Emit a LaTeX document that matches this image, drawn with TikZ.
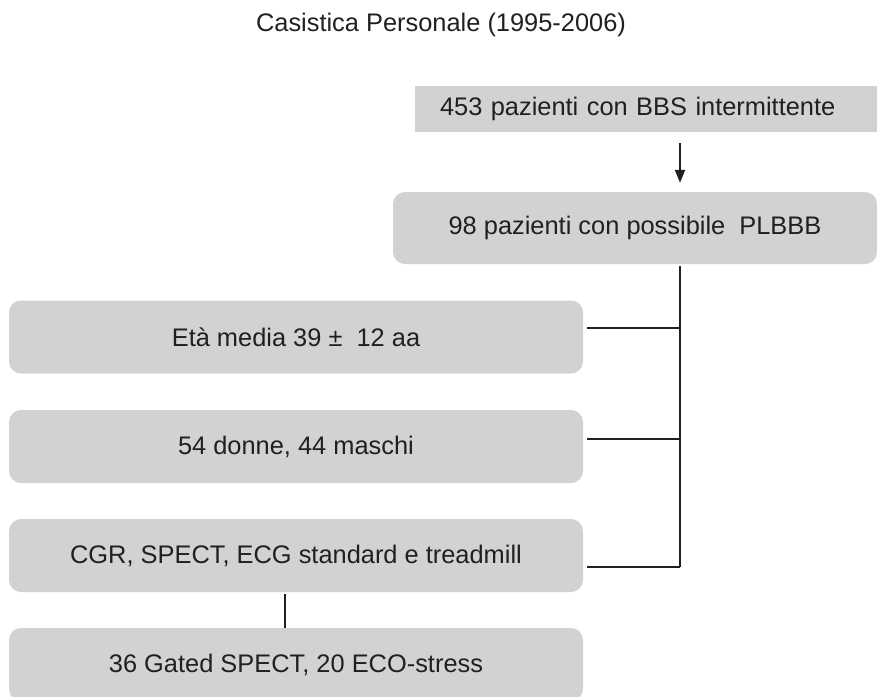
\documentclass[tikz,border=0pt]{standalone}
\usepackage{fontspec}
\setmainfont{Liberation Sans}
\usetikzlibrary{arrows.meta}
\definecolor{boxgray}{RGB}{209,210,212}
\definecolor{ink}{RGB}{35,31,32}
\begin{document}
\begin{tikzpicture}[x=1pt,y=-1pt,
  txt/.style={font=\fontsize{25.4}{30}\selectfont, text=ink},
  box/.style={txt, fill=boxgray, draw=none, rounded corners=12pt, minimum width=574pt, minimum height=73pt, inner sep=0pt},
  conn/.style={draw=ink, line width=2.2pt}]
\useasboundingbox (0,0) rectangle (877,696);
\node[txt] (title) at (441,25) {Casistica Personale (1995-2006)};
\node[box, rounded corners=0pt, minimum width=462pt, minimum height=46pt, text width=412pt, align=left] (top) at (646,109) {453 pazienti con BBS intermittente};
\node[box, minimum width=484pt, minimum height=72pt] (pl) at (635,228) {98 pazienti con possibile\ \ PLBBB};
\node[box] (eta) at (296,337) {Età media 39 ±\ \ 12 aa};
\node[box] (sex) at (296,446.5) {54 donne, 44 maschi};
\node[box] (exam) at (296,555.5) {CGR, SPECT, ECG standard e treadmill};
\node[box] (gated) at (296,664.5) {36 Gated SPECT, 20 ECO-stress};
\coordinate (j1) at (680,328);
\coordinate (j2) at (680,439);
\coordinate (j3) at (680,567);
\coordinate (lx) at (285,0);
\draw[conn, -{Triangle[length=13pt,width=10pt]}, shorten <=11pt, shorten >=9pt] (top.south -| j1) -- (pl.north -| j1);
\draw[conn, shorten <=2pt] (pl.south -| j1) -- (j3);
\draw[conn, shorten >=4pt] (j1) -- (eta.east |- j1);
\draw[conn, shorten >=4pt] (j2) -- (sex.east |- j2);
\draw[conn, shorten >=4pt] (j3) -- (exam.east |- j3);
\draw[conn, shorten <=2pt] (exam.south -| lx) -- (gated.north -| lx);
\end{tikzpicture}
\end{document}
